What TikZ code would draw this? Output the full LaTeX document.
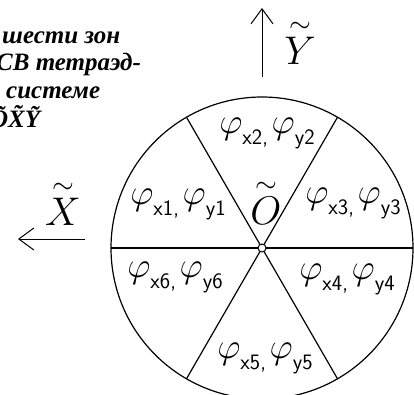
\documentclass[tikz,border=0pt]{standalone}
\usepackage{fix-cm}
\usepackage{amsmath}
\usepackage{fontspec}
\newfontfamily\notefont{Liberation Serif}
\usepackage{tikz}
\usetikzlibrary{arrows.meta,positioning}
\newcommand{\zph}[1]{{\fontsize{36}{36}\selectfont$\varphi$}\raisebox{-11pt}{\fontsize{22}{22}\sffamily #1}}
\newcommand{\zone}[1]{\zph{x#1}\raisebox{-11pt}{\fontsize{22}{22}\sffamily,\,}\zph{y#1}}
\newcommand{\tl}[1]{\overset{\sim}{#1}}
\tikzset{
	axisline/.style={line width=1pt, -{Straight Barb[length=15pt,width=22pt]}},
	axislabel/.style={inner sep=0pt, font=\fontsize{40}{40}\selectfont},
	zonelabel/.style={inner sep=0pt},
	notetext/.style={anchor=base west, inner sep=0pt, font=\notefont\bfseries\itshape\fontsize{25}{25}\selectfont}
}

\begin{document}
\begin{tikzpicture}[x=1pt, y=-1pt]
	\useasboundingbox (0,0) rectangle (414,394);
	
	% caption text (cut at the left)
	\node[notetext] (n1) at (2,43) {шести зон};
	\node[notetext] (n2) at (-4,70) {СВ тетраэд-};
	\node[notetext] (n3) at (6,98) {системе};
	\node[notetext] (n4) at (-10,127) {ÕX̃Ỹ};
	
	% circle with six zones
	\coordinate (O) at (262,248);
	\draw[line width=1.2pt] (O) circle (151);
	\draw[line width=1.2pt] (O) ++(180:151) -- ++(0:302);
	\draw[line width=1.2pt] (O) ++(120:151) -- ++(-60:302);
	\draw[line width=1.2pt] (O) ++(60:151) -- ++(-120:302);
	\filldraw[fill=white, line width=1pt] (O) circle (4);
	
	% axes
	\coordinate (ytail) at (262,77);
	\coordinate (yhead) at (262,8);
	\draw[axisline] (ytail) -- (yhead);
	\node[axislabel] (ylab) at (300,42) {$\tl{Y}$};
	\coordinate (xtail) at (85,239);
	\coordinate (xhead) at (18,239);
	\draw[axisline] (xtail) -- (xhead);
	\node[axislabel] (xlab) at (63,203) {$\tl{X}$};
	\node[axislabel] (olab) at (266,202) {$\tl{O}$};
	
	% zone labels
	\node[zonelabel] (z1) at (178,204) {\zone{1}};
	\node[zonelabel] (z2) at (267,133) {\zone{2}};
	\node[zonelabel] (z3) at (353,203) {\zone{3}};
	\node[zonelabel] (z4) at (347,279) {\zone{4}};
	\node[zonelabel] (z5) at (265,358) {\zone{5}};
	\node[zonelabel] (z6) at (175,277) {\zone{6}};
\end{tikzpicture}
\end{document}
